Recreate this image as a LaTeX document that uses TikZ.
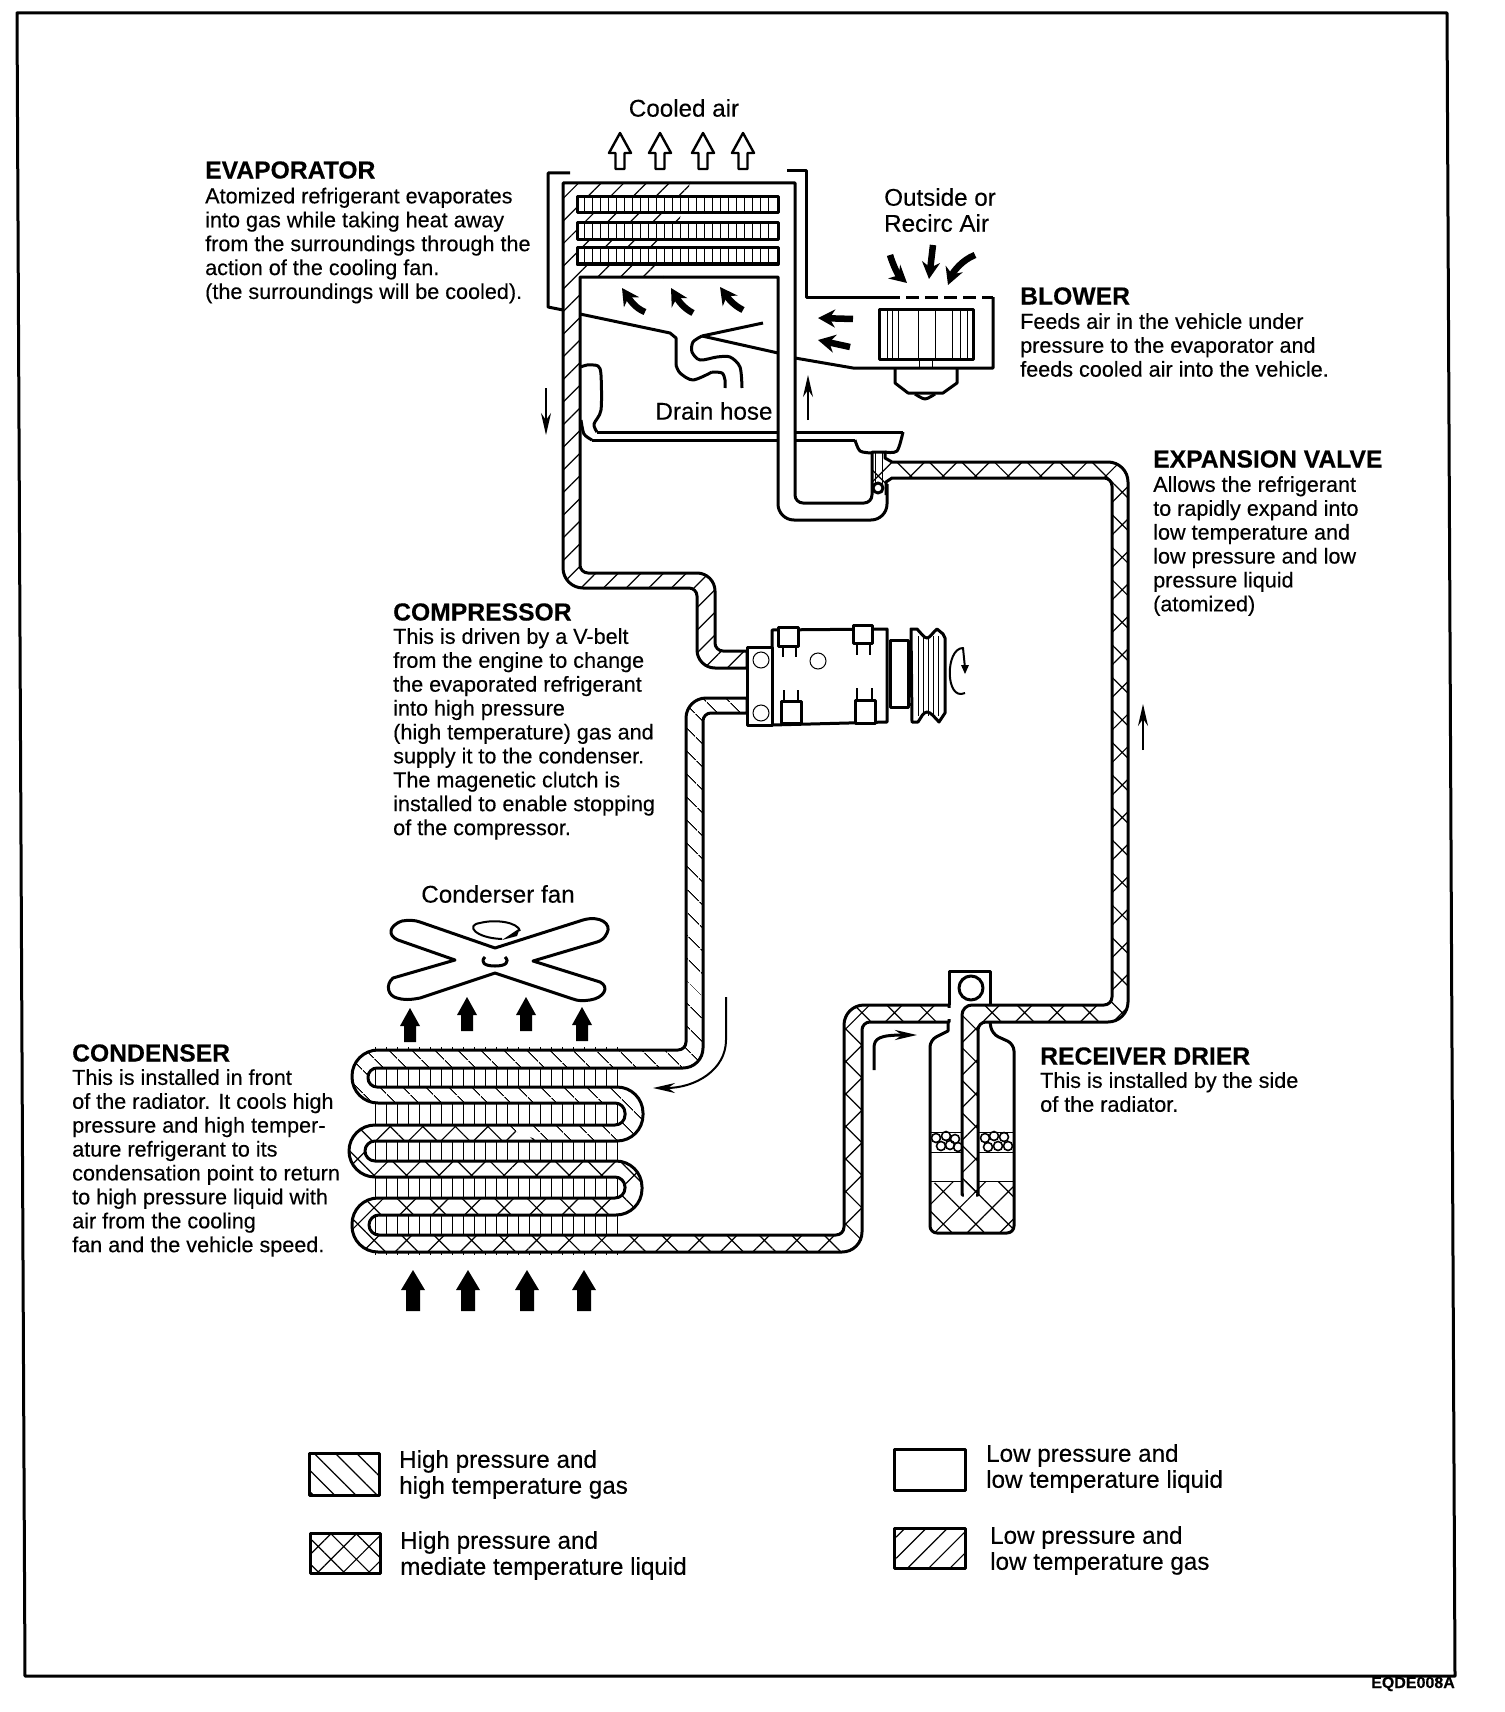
\documentclass[tikz,border=0pt]{standalone}
\usepackage{fontspec}
\setmainfont[FakeBold=0.3]{Liberation Sans}
\usetikzlibrary{arrows.meta, patterns.meta}

\tikzset{
    pipeline/.style={line width=3pt, line join=round},
    thinline/.style={line width=1pt},
    gashot/.style={pattern={Lines[angle=-45, distance=17pt, line width=1.2pt]}},
    liquidmid/.style={pattern={Hatch[angle=45, distance=23pt, line width=1.2pt]}},
    gascold/.style={pattern={Lines[angle=45, distance=16pt, line width=1.2pt]}},
    legendgashot/.style={pattern={Lines[angle=-45, distance=15pt, line width=1.2pt]}},
    legendliquid/.style={pattern={Hatch[angle=45, distance=18pt, line width=1.2pt]}},
    legendgascold/.style={pattern={Lines[angle=45, distance=15pt, line width=1.2pt]}},
    gapline/.style={white, line width=4pt},
    headtext/.style={font=\fontsize{24.7}{24.7}\selectfont\bfseries, anchor=west, inner sep=0pt},
    bodytext/.style={font=\fontsize{21.6}{23.9}\selectfont, align=left, anchor=north west, inner sep=0pt},
    labeltext/.style={font=\fontsize{24.2}{26}\selectfont, align=left, anchor=north west, inner sep=0pt},
    airarrow/.style={line width=6.5pt, -{Stealth[length=17pt, width=18pt]}},
    flowarrow/.style={line width=1.8pt, -{Stealth[length=22pt, width=10pt]}},
}

\begin{document}
\begin{tikzpicture}[x=1pt, y=-1pt]
    \useasboundingbox (0,0) rectangle (1504,1712);

    % Frame
    \draw[pipeline] (17,13) -- (1447,13) -- (1455,1676) -- (25,1676) -- cycle;

    % Cooled air arrows
    \foreach \x in {620,660,703,743}
        \draw[pipeline, line width=2.4pt] (\x-4.5,169) -- (\x-4.5,153) -- (\x-11,153) -- (\x,133)
            -- (\x+11,153) -- (\x+4.5,153) -- (\x+4.5,169) -- cycle;

    % Evaporator housing and duct
    \draw[pipeline] (570,173) -- (548,173) -- (548,307) -- (563,310);
    \draw[pipeline] (787,171) -- (806,171) -- (806,297) -- (887,297);
    \draw[pipeline, dash pattern=on 13pt off 6pt] (887,297) -- (993,297);
    \draw[pipeline] (993,297) -- (993,368) -- (853,368) -- (795,358);
    \draw[pipeline] (580,314) -- (670,333) -- (676,338) -- (676,365);

    % Low pressure gas pipe
    \draw[pipeline, gascold] (690,183) -- (563,183) [rounded corners=20pt] -- (563,588)
        [rounded corners=8pt] -- (697,588) [rounded corners=18pt] -- (697,668) [sharp corners] -- (747,668)
        -- (747,651) [rounded corners=8pt] -- (715,651) [rounded corners=18pt] -- (715,573)
        [rounded corners=8pt] -- (580,573) [sharp corners] -- (580,277) -- (663,277);

    % Low pressure liquid pipe
    \draw[pipeline] (663,277) -- (778,277) [rounded corners=16pt] -- (778,520) -- (887,520) [sharp corners] -- (887,484);
    \draw[pipeline] (690,183) -- (795,183) [rounded corners=8pt] -- (795,503) -- (872,503) [sharp corners] -- (872,495);

    % Evaporator fins
    \foreach \a/\b in {197/213,223/240,248/264} {
        \draw[pipeline, fill=white] (577,\a) rectangle (778,\b);
        \foreach \x in {584,592,...,775}
            \draw[thinline] (\x,\a) -- (\x,\b);
    }

    % Drain pan and hose
    \draw[pipeline] (702,336) -- (778,353);
    \draw[pipeline] (702,336) -- (763,323);
    \draw[pipeline] plot[smooth] coordinates {(702,336) (693,342) (692,352) (700,360) (717,357) (730,357) (740,367) (742,388)};
    \draw[pipeline] plot[smooth] coordinates {(676,365) (680,373) (693,380) (712,372)};
    \draw[pipeline] plot[smooth] coordinates {(712,372) (722,373) (725,380) (725,388)};
    \draw[pipeline] plot[smooth] coordinates {(581,367) (587,365) (598,366) (601,375) (601,410) (594,424) (597,432)};
    \draw[pipeline] (597,432) -- (778,432);
    \draw[pipeline] (795,432) -- (903,432);
    \draw[pipeline] plot[smooth] coordinates {(581,420) (584,434) (592,440)};
    \draw[pipeline] (592,440) -- (778,440);
    \draw[pipeline] (795,440) -- (855,440);

    % Blower
    \draw[pipeline] (879,309) rectangle (973,359);
    \foreach \x in {887,892,898,918,935,952,960,967}
        \draw[thinline] (\x,309) -- (\x,359);
    \draw[thinline] (919,359) -- (919,368);
    \draw[thinline] (932,359) -- (932,368);
    \draw[pipeline] (895,368) -- (895,383) -- (908,393) -- (943,393) -- (957,383) -- (957,368);
    \draw[pipeline] plot[smooth] coordinates {(915,394) (925,399) (935,394)};

    % Air arrows
    \draw[airarrow] (645,312) .. controls (635,308) and (630,300) .. (622,288);
    \draw[airarrow] (693,313) .. controls (683,308) and (678,300) .. (671,288);
    \draw[airarrow] (743,310) .. controls (733,305) and (728,298) .. (720,287);
    \draw[airarrow] (853,319) -- (818,318);
    \draw[airarrow] (850,347) -- (818,340);
    \draw[airarrow] (890,255) .. controls (893,265) and (898,275) .. (907,283);
    \draw[airarrow] (933,245) -- (929,279);
    \draw[airarrow] (975,255) .. controls (962,260) and (953,272) .. (948,285);
    \draw[flowarrow] (546,388) -- (546,435);
    \draw[flowarrow] (808,420) -- (808,375);
    \draw[flowarrow] (1143,750) -- (1143,704);
    \draw[flowarrow, line width=2pt] (726,997) -- (726,1040) .. controls (726,1070) and (695,1088) .. (653,1088);
    \draw[flowarrow, line width=3pt] (874,1070) -- (874,1048) .. controls (874,1038) and (880,1035) .. (917,1035);

    % Expansion valve and high pressure liquid pipe
    \draw[pipeline, liquidmid] (886,495) -- (886,482) -- (892,478) [rounded corners=8pt] -- (1112,478)
        -- (1112,1005) [rounded corners=10pt] -- (962,1005) [sharp corners] -- (962,1195) -- (978,1195)
        [rounded corners=8pt] -- (978,1022) [rounded corners=20pt] -- (1128,1022) -- (1128,462)
        [sharp corners] -- (892,462) -- (885,458) -- (885,452) -- (872,452) -- (872,495);
    \draw[gapline] (964,1195) -- (976,1195);
    \draw[thinline] (875,452) -- (875,484);
    \draw[thinline] (882,452) -- (882,484);
    \draw[pipeline] plot[smooth] coordinates {(855,440) (860,451) (872,453)};
    \draw[pipeline] plot[smooth] coordinates {(903,432) (897,451) (885,452)};
    \draw[pipeline, fill=white] (878,488) circle (5);

    % Receiver drier
    \fill[liquidmid, rounded corners=10pt] (930,1181) -- (930,1233) -- (1014,1233) -- (1014,1181) -- cycle;
    \draw[thinline] (930,1181) -- (962,1181);
    \draw[thinline] (978,1181) -- (1014,1181);
    \foreach \y in {1132,1152} {
        \draw[thinline] (930,\y) -- (962,\y);
        \draw[thinline] (978,\y) -- (1014,\y);
    }
    \foreach \x/\y in {936/1138,946/1136,955/1139,941/1146,950/1145,958/1147,985/1138,994/1136,1004/1137,988/1147,998/1146,1008/1146}
        \draw[thinline, line width=1.6pt] (\x,\y) circle (4.5);
    \draw[pipeline] (948,1022) -- (948,1031) [rounded corners=7pt] -- (930,1040) -- (930,1233) -- (1014,1233)
        -- (1014,1044) -- (992,1034) [sharp corners] -- (990,1022);
    \draw[pipeline] (949,1005) -- (949,971) -- (990,971) -- (990,1005);
    \draw[pipeline] (971,988) circle (12);

    % High pressure gas pipe and condenser coil
    \draw[pipeline, gashot] (540,1141) [rounded corners=26pt] -- (643,1141) -- (643,1087)
        [rounded corners=9pt] -- (368,1087) -- (368,1068) [rounded corners=20pt] -- (703,1068)
        [rounded corners=8pt] -- (703,713) [sharp corners] -- (747,713) -- (747,698)
        [rounded corners=20pt] -- (686,698) [rounded corners=8pt] -- (686,1050)
        [rounded corners=26pt] -- (352,1050) -- (352,1103) [rounded corners=10pt] -- (625,1103)
        -- (625,1125) [sharp corners] -- (500,1125);
    \draw[pipeline, liquidmid] (500,1125) [rounded corners=26pt] -- (349,1125) -- (349,1177)
        [rounded corners=10pt] -- (625,1177) -- (625,1198) [rounded corners=26pt] -- (352,1198)
        -- (352,1252) [rounded corners=20pt] -- (862,1252) [rounded corners=8pt] -- (862,1022)
        [sharp corners] -- (949,1022) -- (949,1005) [rounded corners=20pt] -- (844,1005)
        [rounded corners=8pt] -- (844,1235) [rounded corners=10pt] -- (369,1235) -- (369,1215)
        [rounded corners=26pt] -- (642,1215) -- (642,1161) [rounded corners=10pt] -- (365,1161)
        -- (365,1141) [sharp corners] -- (540,1141);
    \draw[gapline] (949,1008) -- (949,1019);

    % Condenser fins
    \foreach \a/\b in {1068/1087,1103/1125,1141/1161,1177/1198,1215/1235}
        \foreach \x in {375,386,...,617}
            \draw[thinline] (\x,\a) -- (\x,\b);
    \foreach \x in {375,386,...,617} {
        \draw[thinline, line width=0.7pt] (\x,1047) -- (\x,1050);
        \draw[thinline, line width=0.7pt] (\x,1252) -- (\x,1255);
    }

    % Condenser fan
    \draw[pipeline] (495,948) -- (583,920) .. controls (600,915) and (612,924) .. (607,933)
        .. controls (605,938) and (601,941) .. (597,942) -- (533,961) -- (600,982)
        .. controls (610,987) and (604,998) .. (590,1000) .. controls (583,1001) and (578,1001) .. (573,999)
        -- (495,973) -- (420,998) .. controls (410,1000) and (403,1000) .. (397,998)
        .. controls (388,996) and (385,985) .. (393,978) -- (455,960) -- (398,940)
        .. controls (388,936) and (388,926) .. (402,921) .. controls (408,920) and (415,920) .. (420,922) -- cycle;
    \draw[pipeline] (485,957) .. controls (480,962) and (484,966) .. (495,966) .. controls (506,966) and (510,962) .. (505,957);
    \draw[pipeline, line width=2pt] (502,939) .. controls (475,938) and (465,925) .. (480,923) .. controls (495,919) and (518,922) .. (520,931);
    \fill (502,940) -- (520,928) -- (517,936) -- cycle;

    % Black air arrows
    \foreach \x/\y in {410/1008,467/997,526/997,582/1007}
        \fill (\x-6,\y+34) -- (\x-6,\y+18) -- (\x-10,\y+18) -- (\x,\y) -- (\x+10,\y+18) -- (\x+6,\y+18) -- (\x+6,\y+34) -- cycle;
    \foreach \x in {413,468,527,584}
        \fill (\x-7,1311) -- (\x-7,1290) -- (\x-12,1290) -- (\x,1270) -- (\x+12,1290) -- (\x+7,1290) -- (\x+7,1311) -- cycle;

    % Compressor
    \draw[pipeline, fill=white] (772,630) -- (887,629) -- (887,722) -- (772,725) -- cycle;
    \draw[pipeline, fill=white] (747,647) rectangle (772,725);
    \draw[thinline] (761,660) circle (8);
    \draw[thinline] (761,713) circle (8);
    \draw[thinline] (818,661) circle (8);
    \draw[pipeline, fill=white] (778,627) rectangle (798,646);
    \draw[pipeline, fill=white] (853,625) rectangle (872,643);
    \draw[pipeline, fill=white] (781,701) rectangle (801,723);
    \draw[pipeline, fill=white] (855,700) rectangle (875,723);
    \foreach \x/\a/\b in {783/646/657,796/646/657,857/643/655,870/643/655,784/690/701,798/690/701,857/688/700,872/688/700}
        \draw[pipeline, line width=2pt] (\x,\a) -- (\x,\b);
    \draw[pipeline, fill=white] (890,640) rectangle (908,707);
    \draw[pipeline] (908,648) -- (911,648);
    \draw[pipeline] (908,704) -- (911,704);
    \draw[pipeline, fill=white] (911,629) -- (917,629) .. controls (921,633) and (924,638) .. (927,638)
        .. controls (930,638) and (933,632) .. (937,629) -- (943,634) -- (945,638)
        -- (945,713) -- (939,722) .. controls (935,718) and (931,712) .. (927,712)
        .. controls (923,712) and (921,718) .. (918,722) -- (912,722) -- cycle;
    \foreach \x in {918,923,928,933,938}
        \draw[thinline, line width=0.8pt] (\x,636) -- (\x,716);
    \draw[pipeline, line width=2pt] (965,693) .. controls (945,702) and (945,648) .. (963,648) -- (965,668);
    \fill (961,665) -- (969,665) -- (965,674) -- cycle;

    % Labels
    \node[font=\fontsize{24.2}{24}\selectfont] (cooled) at (684,108) {Cooled air};
    \node[headtext] (evaphead) at (205,170) {EVAPORATOR};
    \node[bodytext] (evapbody) at (205,187.5) {Atomized refrigerant evaporates\\into gas while taking heat away\\from the surroundings through the\\action of the cooling fan.\\(the surroundings will be cooled).};
    \node[labeltext] (outside) at (884,188) {Outside or\\Recirc Air};
    \node[headtext] (blowerhead) at (1020,296) {BLOWER};
    \node[bodytext] (blowerbody) at (1020,313) {Feeds air in the vehicle under\\pressure to the evaporator and\\feeds cooled air into the vehicle.};
    \node[font=\fontsize{24.2}{24}\selectfont] (drain) at (714,411) {Drain hose};
    \node[headtext] (valvehead) at (1153,459) {EXPANSION VALVE};
    \node[bodytext] (valvebody) at (1153,476) {Allows the refrigerant\\to rapidly expand into\\low temperature and\\low pressure and low\\pressure liquid\\(atomized)};
    \node[headtext] (comphead) at (393,612) {COMPRESSOR};
    \node[bodytext] (compbody) at (393,628) {This is driven by a V-belt\\from the engine to change\\the evaporated refrigerant\\into high pressure\\(high temperature) gas and\\supply it to the condenser.\\The magenetic clutch is\\installed to enable stopping\\of the compressor.};
    \node[font=\fontsize{24.2}{24}\selectfont] (fan) at (498,894) {Conderser fan};
    \node[headtext] (condhead) at (72,1053) {CONDENSER};
    \node[bodytext] (condbody) at (72,1069) {This is installed in front\\of the radiator. It cools high\\pressure and high temper-\\ature refrigerant to its\\condensation point to return\\to high pressure liquid with\\air from the cooling\\fan and the vehicle speed.};
    \node[headtext] (recvhead) at (1040,1056) {RECEIVER DRIER};
    \node[bodytext] (recvbody) at (1040,1072) {This is installed by the side\\of the radiator.};

    % Legend
    \draw[pipeline, legendgashot] (309,1453) rectangle (379,1495);
    \draw[pipeline, legendliquid] (310,1533) rectangle (380,1573);
    \draw[pipeline] (894,1449) rectangle (965,1490);
    \draw[pipeline, legendgascold] (894,1528) rectangle (965,1568);
    \node[labeltext] (keygas) at (399,1450) {High pressure and\\high temperature gas};
    \node[labeltext] (keyliquid) at (400,1531) {High pressure and\\mediate temperature liquid};
    \node[labeltext] (keylow) at (986,1444) {Low pressure and\\low temperature liquid};
    \node[labeltext] (keycold) at (990,1526) {Low pressure and\\low temperature gas};
    \node[font=\fontsize{16}{16}\selectfont\bfseries] (code) at (1413,1684) {EQDE008A};
\end{tikzpicture}
\end{document}
